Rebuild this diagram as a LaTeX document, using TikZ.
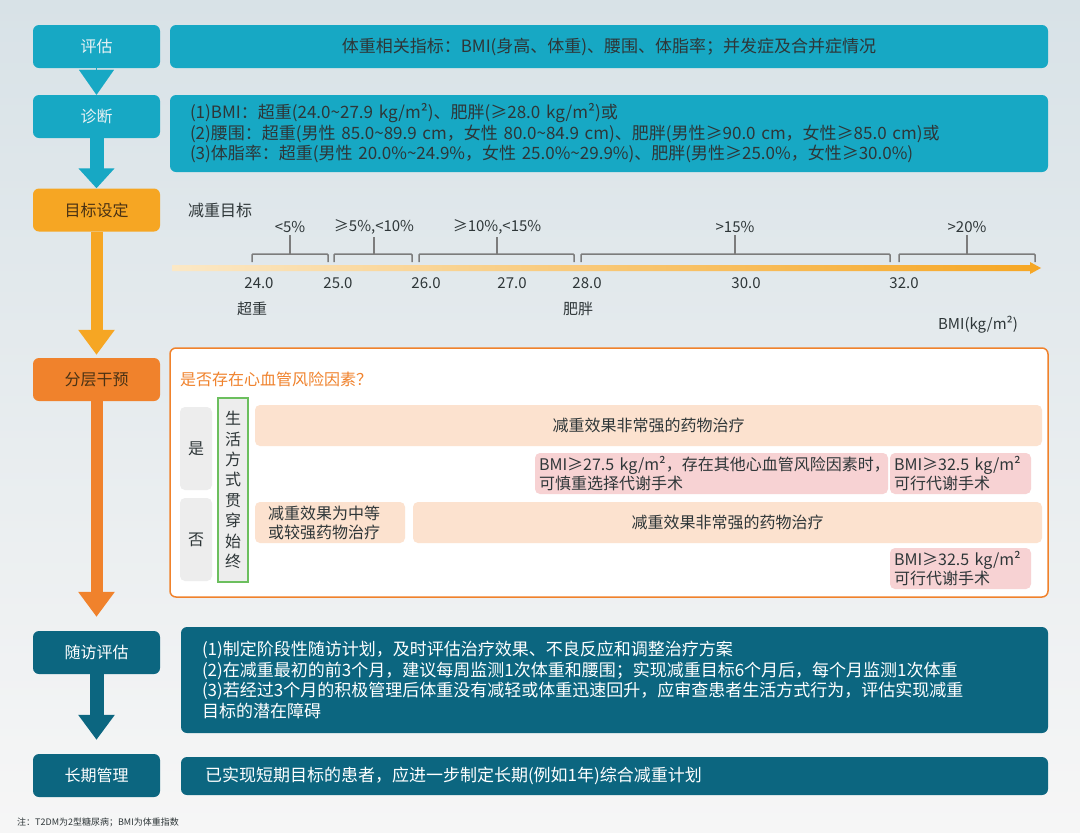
\documentclass[tikz,border=0pt]{standalone}
\usepackage{fontspec}
\setmainfont{Noto Sans CJK SC}
\usetikzlibrary{arrows.meta}
\definecolor{cteal}{HTML}{17A8C4}
\definecolor{cdark}{HTML}{0C6680}
\definecolor{cgold}{HTML}{F6A623}
\definecolor{corange}{HTML}{F0822C}
\definecolor{caxis}{HTML}{FBE8C6}
\definecolor{cpeach}{HTML}{FCE2CF}
\definecolor{cpink}{HTML}{F7D2D3}
\definecolor{cgreen}{HTML}{6CBF5E}
\definecolor{cgrey}{HTML}{EDEDED}
\definecolor{ctext}{HTML}{2E3638}
\definecolor{clight}{HTML}{E8F2F5}
\definecolor{cbrown}{HTML}{4A3214}
\definecolor{cbrk}{HTML}{7C7C7C}
\definecolor{cbgtop}{HTML}{D8E2E7}
\definecolor{cbgmid}{HTML}{E7ECEE}
\definecolor{cbgbot}{HTML}{F6F6F6}
\tikzset{
  lab/.style={rounded corners=6pt, minimum width=127pt, minimum height=43pt, inner sep=0pt, font=\fontsize{16}{19}\selectfont},
  info/.style={rounded corners=6pt, inner sep=0pt, text=ctext, font=\fontsize{17}{20.5}\selectfont},
  fat/.style={draw=#1, line width=14pt, -{Triangle[width=35pt,length=25pt]}},
  brk/.style={draw=cbrk, line width=1.5pt},
  small/.style={inner sep=2pt, text=ctext, font=\fontsize{15}{18}\selectfont},
  soft/.style={rounded corners=5pt, inner sep=0pt, minimum height=41pt, text=ctext, font=\fontsize{16}{19}\selectfont},
}

\begin{document}
\begin{tikzpicture}[x=1pt, y=-1pt]
   \useasboundingbox (0,0) rectangle (1080,833);
   \shade[top color=cbgtop, middle color=cbgmid, bottom color=cbgbot] (0,0) rectangle (1080,833);

   \node[lab, fill=cteal, text=clight] (pg) at (96.5,46.5) {评估};
   \node[lab, fill=cteal, text=clight] (zd) at (96.5,116.5) {诊断};
   \node[lab, fill=cgold, text=cbrown] (mb) at (96.5,210) {目标设定};
   \node[lab, fill=corange, text=cbrown] (fc) at (96.5,379.5) {分层干预};
   \node[lab, fill=cdark, text=white] (sf) at (96.5,652.5) {随访评估};
   \node[lab, fill=cdark, text=white] (cq) at (96.5,775.5) {长期管理};

   \draw[fat=cteal, line width=0.1pt] (pg.south) -- (zd.north);
   \draw[fat=cteal, -{Triangle[width=35pt,length=20pt]}] (zd.south) -- (mb.north);
   \draw[fat=cgold, line width=12pt, shorten >=3pt] (mb.south) -- (fc.north);
   \draw[fat=corange, line width=12pt, shorten >=14pt] (fc.south) -- (sf.north);
   \draw[fat=cdark, shorten >=14pt] (sf.south) -- (cq.north);

   \node[info, fill=cteal, minimum width=878pt, minimum height=43pt] (pgr) at (609,46.5)
      {体重相关指标：BMI(身高、体重)、腰围、体脂率；并发症及合并症情况};
   \node[info, fill=cteal, inner xsep=20pt, text width=838pt, minimum height=77pt, align=left] (zdr) at (609,133.5)
      {(1)BMI：超重(24.0\textasciitilde27.9~kg/m²)、肥胖(≥28.0~kg/m²)或\\
       (2)腰围：超重(男性~85.0\textasciitilde89.9~cm，女性~80.0\textasciitilde84.9~cm)、肥胖(男性≥90.0~cm，女性≥85.0~cm)或\\
       (3)体脂率：超重(男性~20.0\%\textasciitilde24.9\%，女性~25.0\%\textasciitilde29.9\%)、肥胖(男性≥25.0\%，女性≥30.0\%)};

   \node[small, anchor=west, font=\fontsize{16}{19}\selectfont] (mbt) at (186,210) {减重目标};
   \shade[left color=caxis, right color=cgold] (172,265) -- (1030,265) -- (1030,262) -- (1041,268)
      -- (1030,274) -- (1030,271) -- (172,271) -- cycle;
   \foreach \a/\b/\s/\t [count=\i] in {252/328/290/{<5\%}, 334/412/374/{≥5\%,<10\%},
         419/574/497/{≥10\%,<15\%}, 581/890/735/{>15\%}, 899/1035/967/{>20\%}} {
      \node[small] (gl\i) at (\s,227) {\t};
      \draw[brk, rounded corners=1pt] (\a,262) -- (\a,254) -- (\b,254) -- (\b,262);
      \draw[brk] (\s,254) -- (gl\i.south);
   }
   \foreach \x/\v [count=\i] in {259/24.0, 338/25.0, 426/26.0, 512/27.0, 587/28.0, 746/30.0, 904/32.0}
      \node[small] (bmi\i) at (\x,283) {\v};
   \node[small] (cz) at (252,309) {超重};
   \node[small] (fp) at (578,309) {肥胖};
   \node[small] (unit) at (978,325) {BMI(kg/m²)};

   \node[draw=corange, fill=white, line width=1.5pt, rounded corners=6pt, minimum width=878pt, minimum height=249pt] (fcr) at (609,472.5) {};
   \node[anchor=west, inner sep=0pt, text=corange, font=\fontsize{16}{19}\selectfont] (q) at (180,379) {是否存在心血管风险因素？};
   \node[soft, fill=cgrey, minimum width=32pt, minimum height=83pt] (yes) at (196,448.5) {是};
   \node[soft, fill=cgrey, minimum width=32pt, minimum height=83pt] (no) at (196,539.5) {否};
   \node[soft, rounded corners=0pt, draw=cgreen, fill=cgrey, line width=1.5pt, minimum width=30pt, minimum height=184pt,
      align=center, font=\fontsize{16}{20.4}\selectfont] (life) at (233,490) {生\\活\\方\\式\\贯\\穿\\始\\终};
   \node[soft, fill=cpeach, minimum width=787pt] (y1) at (648.5,425.5) {减重效果非常强的药物治疗};
   \node[soft, fill=cpink, inner xsep=4pt, text width=345pt, align=left] (y2) at (711.5,473.5)
      {BMI≥27.5~kg/m²，存在其他心血管风险因素时，\\可慎重选择代谢手术};
   \node[soft, fill=cpink, inner xsep=4pt, text width=133pt, align=left] (y3) at (960.5,473.5)
      {BMI≥32.5~kg/m²\\可行代谢手术};
   \node[soft, fill=cpeach, inner xsep=13pt, text width=124pt, align=left] (n1) at (330,522.5)
      {减重效果为中等\\或较强药物治疗};
   \node[soft, fill=cpeach, minimum width=629pt] (n2) at (727.5,522.5) {减重效果非常强的药物治疗};
   \node[soft, fill=cpink, inner xsep=4pt, text width=133pt, align=left] (n3) at (960.5,568.5)
      {BMI≥32.5~kg/m²\\可行代谢手术};

   \node[info, fill=cdark, text=white, inner xsep=21pt, text width=825pt, minimum height=106pt, align=left] (sfr) at (614.5,680)
      {(1)制定阶段性随访计划，及时评估治疗效果、不良反应和调整治疗方案\\
       (2)在减重最初的前3个月，建议每周监测1次体重和腰围；实现减重目标6个月后，每个月监测1次体重\\
       (3)若经过3个月的积极管理后体重没有减轻或体重迅速回升，应审查患者生活方式行为，评估实现减重\\
       目标的潜在障碍};
   \node[info, fill=cdark, text=white, inner xsep=24pt, text width=819pt, minimum height=38pt, align=left] (cqr) at (614.5,776)
      {已实现短期目标的患者，应进一步制定长期(例如1年)综合减重计划};

   \node[anchor=west, inner sep=0pt, text=ctext, font=\fontsize{9}{10}\selectfont] (note) at (17,822) {注：T2DM为2型糖尿病；BMI为体重指数};
\end{tikzpicture}
\end{document}
